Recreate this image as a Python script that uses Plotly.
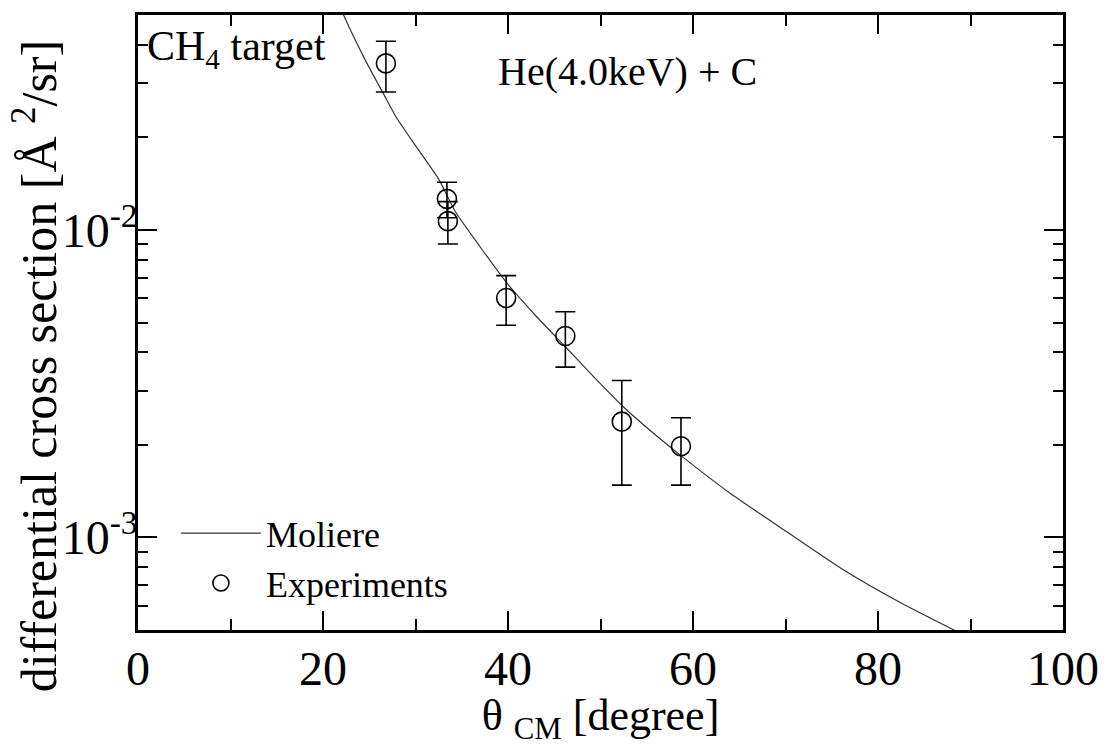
import plotly.graph_objects as go

# Moliere calculation
theta_moliere = [22.0, 22.3, 24.5, 26.6, 27.9, 30.0, 32.5, 34.3, 37.0, 40.0, 43.0, 46.2, 49.3, 52.4,
                 55.5, 58.7, 63.9, 70.1, 76.2, 82.6, 88.4, 90.0]
sigma_moliere = [0.052, 0.0494, 0.0360, 0.0275, 0.0233, 0.0188, 0.01463, 0.01148, 0.0088, 0.00665,
                 0.00526, 0.00417, 0.00332, 0.00267, 0.00221, 0.001845, 0.00140, 0.001045,
                 0.000787, 0.000610, 0.000497, 0.000470]

# Experiments
theta_exp = [26.8, 33.4, 33.5, 39.8, 46.2, 52.3, 58.7]
sigma_exp = [0.0348, 0.01262, 0.01068, 0.00601, 0.00452, 0.00238, 0.00198]
err_plus = [0.0063, 0.00167, 0.00168, 0.00109, 0.00090, 0.00086, 0.00047]
err_minus = [0.0067, 0.00167, 0.00168, 0.00111, 0.00094, 0.00090, 0.00050]

# Axis ticks
x_major = [0, 20, 40, 60, 80, 100]
y_major = [1e-3, 1e-2]
y_major_text = ["10<sup>-3</sup>", "10<sup>-2</sup>"]
y_minor = [5e-4, 6e-4, 7e-4, 8e-4, 9e-4,
           2e-3, 3e-3, 4e-3, 5e-3, 6e-3, 7e-3, 8e-3, 9e-3,
           2e-2, 3e-2, 4e-2]

FONT = "Liberation Serif"

fig = go.Figure()
fig.add_trace(go.Scatter(
    x=theta_moliere, y=sigma_moliere, mode="lines", name="Moliere",
    line=dict(color="#333333", width=1.2, shape="spline", smoothing=0.6),
))
fig.add_trace(go.Scatter(
    x=theta_exp, y=sigma_exp, mode="markers", name="Experiments",
    marker=dict(symbol="circle-open", size=19, color="black", line=dict(width=1.6, color="black")),
    error_y=dict(type="data", symmetric=False, array=err_plus, arrayminus=err_minus,
                 color="black", thickness=1.6, width=10),
))

fig.update_layout(
    width=1111, height=746,
    margin=dict(l=138, r=45, t=13, b=103),
    paper_bgcolor="white", plot_bgcolor="white",
    font=dict(family=FONT, color="black"),
    showlegend=True,
    legend=dict(x=0.041, y=0.206, xanchor="left", yanchor="top",
                bgcolor="rgba(0,0,0,0)", font=dict(size=36, family=FONT, color="black"),
                itemwidth=80, tracegroupgap=0),
    xaxis=dict(
        range=[0, 100], tickvals=x_major, ticks="inside", ticklen=19, tickwidth=2,
        tickcolor="black", showline=True, linewidth=2.5, linecolor="black", mirror="ticks",
        showgrid=False, zeroline=False, tickfont=dict(size=48, family=FONT, color="black"),
        ticklabelstandoff=-5,
        minor=dict(dtick=10, ticks="inside", ticklen=11, tickwidth=2, tickcolor="black", showgrid=False),
        title=dict(text="θ <sub>CM</sub> [degree]", font=dict(size=44, family=FONT, color="black"),
                   standoff=8),
    ),
    yaxis=dict(
        type="log", range=[-3.30103, -1.30103],
        tickmode="array", tickvals=y_major, ticktext=y_major_text,
        ticks="inside", ticklen=19, tickwidth=2, tickcolor="black",
        showline=True, linewidth=2.5, linecolor="black", mirror="ticks",
        showgrid=False, zeroline=False, tickfont=dict(size=48, family=FONT, color="black"),
        ticklabelstandoff=-12,
        minor=dict(tickmode="array", tickvals=y_minor, ticks="inside", ticklen=10,
                   tickwidth=2, tickcolor="black", showgrid=False),
    ),
)

fig.add_annotation(text="differential cross section [Å <sup>2</sup>/sr]", xref="paper", yref="paper",
                   x=-0.1105, y=0.43, xanchor="center", yanchor="middle", textangle=-90,
                   showarrow=False, font=dict(size=50, family=FONT, color="black"))
fig.add_annotation(text="CH<sub>4</sub> target", xref="paper", yref="paper",
                   x=0.008, y=0.99, xanchor="left", yanchor="top", showarrow=False,
                   font=dict(size=42, family=FONT, color="black"))
fig.add_annotation(text="He(4.0keV) + C", xref="paper", yref="paper",
                   x=0.387, y=0.948, xanchor="left", yanchor="top", showarrow=False,
                   font=dict(size=40, family=FONT, color="black"))

fig.write_html("out.html")
